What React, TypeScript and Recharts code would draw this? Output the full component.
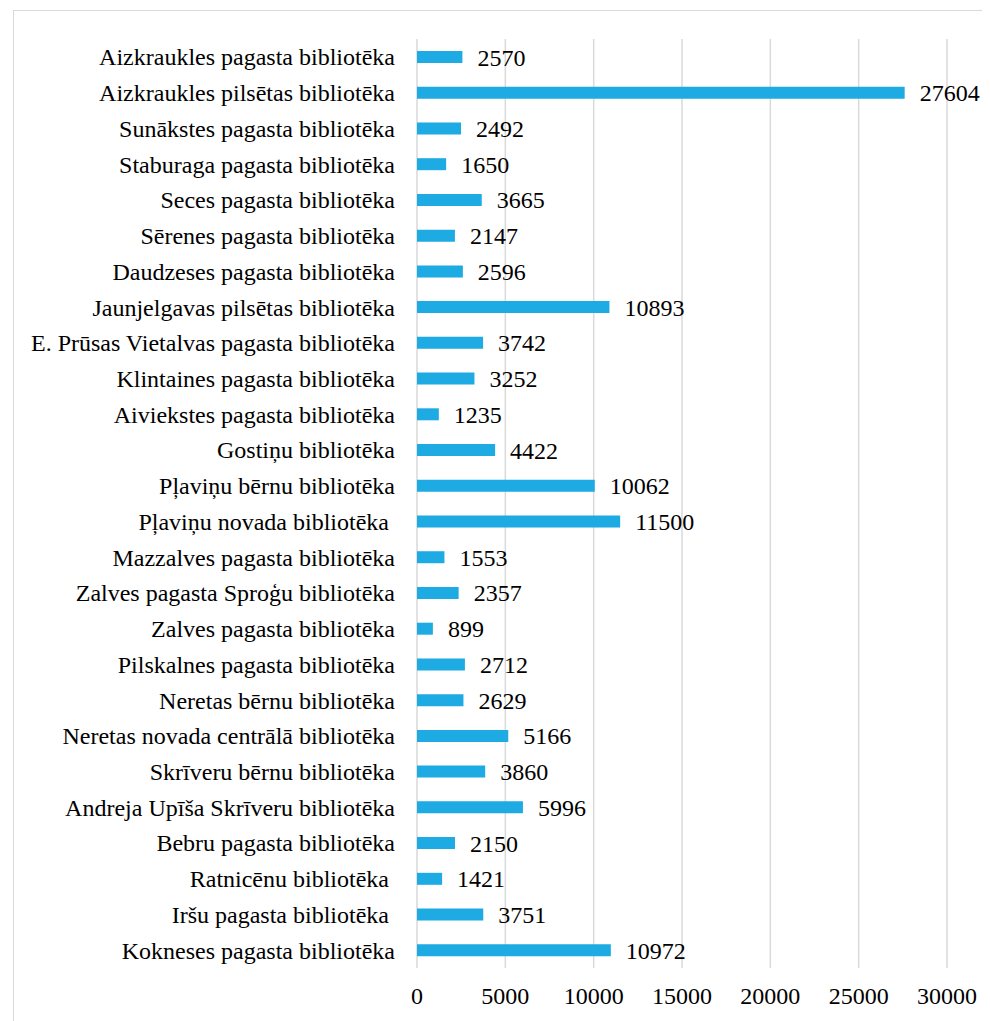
import { BarChart, Bar, XAxis, YAxis, CartesianGrid, LabelList } from "recharts";

const libraries = [
    "Aizkraukles pagasta bibliotēka",
    "Aizkraukles pilsētas bibliotēka",
    "Sunākstes pagasta bibliotēka",
    "Staburaga pagasta bibliotēka",
    "Seces pagasta bibliotēka",
    "Sērenes pagasta bibliotēka",
    "Daudzeses pagasta bibliotēka",
    "Jaunjelgavas pilsētas bibliotēka",
    "E. Prūsas Vietalvas pagasta bibliotēka",
    "Klintaines pagasta bibliotēka",
    "Aiviekstes pagasta bibliotēka",
    "Gostiņu bibliotēka",
    "Pļaviņu bērnu bibliotēka",
    "Pļaviņu novada bibliotēka\u00a0",
    "Mazzalves pagasta bibliotēka",
    "Zalves pagasta Sproģu bibliotēka",
    "Zalves pagasta bibliotēka",
    "Pilskalnes pagasta bibliotēka",
    "Neretas bērnu bibliotēka",
    "Neretas novada centrālā bibliotēka",
    "Skrīveru bērnu bibliotēka",
    "Andreja Upīša Skrīveru bibliotēka",
    "Bebru pagasta bibliotēka",
    "Ratnicēnu bibliotēka\u00a0",
    "Iršu pagasta bibliotēka\u00a0",
    "Kokneses pagasta bibliotēka",
];

const visits = [
    2570, 27604, 2492, 1650, 3665, 2147, 2596, 10893, 3742, 3252, 1235, 4422, 10062,
    11500, 1553, 2357, 899, 2712, 2629, 5166, 3860, 5996, 2150, 1421, 3751, 10972,
];

const xTicks = [0, 5000, 10000, 15000, 20000, 25000, 30000];

const data = libraries.map((name, i) => ({ name, value: visits[i] }));

const font = "'Liberation Serif', 'Times New Roman', serif";

export default function App() {
    return (
        <div style={{
            marginLeft: 5,
            marginTop: 2,
            width: 990,
            height: 1030,
            border: "1px solid #d9d9d9",
            background: "#fff",
        }}>
            <BarChart
                width={976}
                height={1015}
                data={data}
                layout="vertical"
                margin={{ top: 28, right: 43, bottom: 28, left: 0 }}
                barCategoryGap={0}
            >
                <CartesianGrid horizontal={false} stroke="#d9d9d9" strokeWidth={1.5} />
                <XAxis
                    type="number"
                    domain={[0, 30000]}
                    ticks={xTicks}
                    axisLine={false}
                    tickLine={false}
                    tickSize={0}
                    tickMargin={19}
                    interval={0}
                    height={30}
                    tick={{ fill: "#000", fontSize: 24, fontFamily: font }}
                />
                <YAxis
                    type="category"
                    dataKey="name"
                    width={403}
                    axisLine={false}
                    tickLine={false}
                    tickSize={0}
                    tickMargin={22}
                    interval={0}
                    tick={{ fill: "#000", fontSize: 24, fontFamily: font }}
                />
                <Bar dataKey="value" fill="#1eaae2" barSize={12} isAnimationActive={false}>
                    <LabelList
                        dataKey="value"
                        position="right"
                        offset={15}
                        fill="#000"
                        fontSize={24}
                        fontFamily={font}
                    />
                </Bar>
            </BarChart>
        </div>
    );
}
